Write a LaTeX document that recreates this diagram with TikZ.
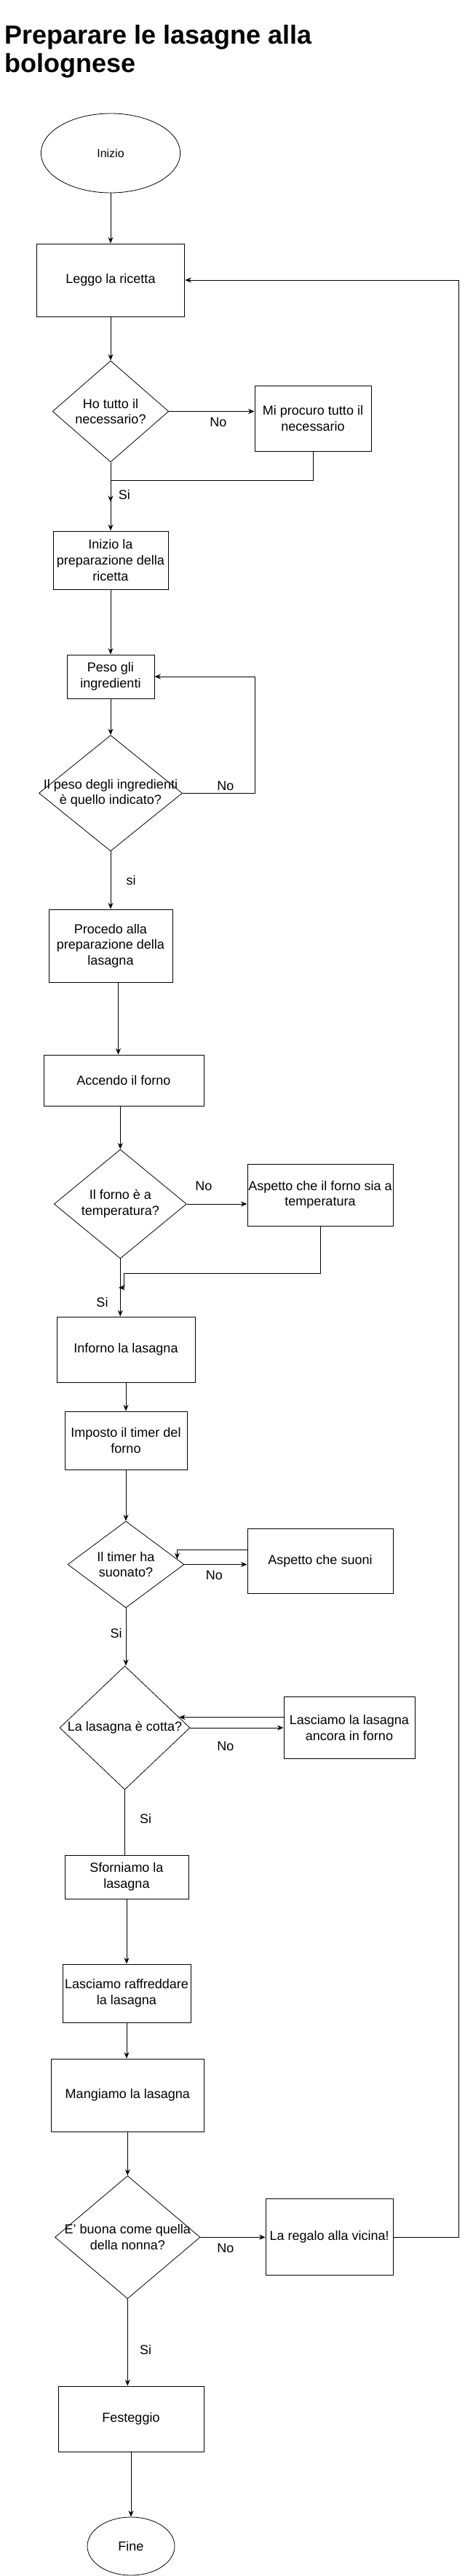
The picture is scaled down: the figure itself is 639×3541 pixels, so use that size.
\documentclass[tikz,border=0pt]{standalone}
\usepackage{fontspec}
\setmainfont{Liberation Sans}
\usetikzlibrary{shapes.geometric,arrows.meta}

\begin{document}
\begin{tikzpicture}[
  x=1pt, y=1pt,
  line width=1pt,
  box/.style={rectangle, draw, align=center, inner sep=1pt},
  decision/.style={diamond, draw, line width=0.8pt, inner sep=0pt},
  terminal/.style={ellipse, draw, line width=0.8pt, inner sep=0pt},
  dtext/.style={align=center, inner sep=0pt},
  lbl/.style={inner sep=0pt},
  title/.style={align=left, inner sep=0pt, font=\fontsize{36}{39}\selectfont\bfseries},
  >={Stealth[length=8.5pt,width=7pt]},
  font=\fontsize{18}{21.6}\selectfont
]
\useasboundingbox (0,0) rectangle (639,-3541);

\node[title, anchor=north west] (titolo) at (6,-34) {Preparare le lasagne alla\\bolognese};

% colonna principale
\node[terminal, minimum width=191.4pt, minimum height=109pt, font=\fontsize{16}{19}\selectfont] (inizio) at (152,-210.5) {Inizio};
\node[box, below of=inizio, node distance=174.5pt, minimum width=203.7pt, minimum height=100pt] (leggo) {Leggo la ricetta};
\node[decision, below of=leggo, node distance=180.5pt, minimum width=159.6pt, minimum height=139.3pt,
  label={[dtext]center:Ho tutto il\\necessario?}] (d1) {};
\node[box, right of=d1, node distance=278pt, yshift=-9.5pt, minimum width=160pt, minimum height=90pt] (procuro) {Mi procuro tutto il\\necessario};
\node[box, below of=d1, node distance=204.5pt, minimum width=158pt, minimum height=80pt] (prep) {Inizio la\\preparazione della\\ricetta};
\node[box, below of=prep, node distance=160pt, minimum width=120pt, minimum height=60pt] (peso) {Peso gli\\ingredienti};
\node[decision, below of=peso, node distance=160.3pt, minimum width=197pt, minimum height=159.3pt,
  label={[dtext]center:Il peso degli ingredienti\\è quello indicato?}] (d2) {};
\node[box, below of=d2, node distance=209.7pt, minimum width=170pt, minimum height=100pt] (procedo) {Procedo alla\\preparazione della\\lasagna};
\node[box, below of=procedo, node distance=185pt, xshift=18pt, minimum width=220pt, minimum height=70pt] (accendo) {Accendo il forno};
\node[decision, below of=accendo, node distance=170pt, xshift=-4.7pt, minimum width=182pt, minimum height=150pt,
  label={[dtext]center:Il forno è a\\temperatura?}] (d3) {};
\node[box, right of=d3, node distance=274.7pt, yshift=12.5pt, minimum width=200pt, minimum height=85pt] (attesa) {Aspetto che il forno sia a\\temperatura};
\node[box, below of=d3, node distance=200pt, xshift=7.7pt, minimum width=190pt, minimum height=90pt] (inforno) {Inforno la lasagna};
\node[box, below of=inforno, node distance=125pt, minimum width=168pt, minimum height=80pt] (imposto) {Imposto il timer del\\forno};
\node[decision, below of=imposto, node distance=170.5pt, minimum width=160pt, minimum height=119pt,
  label={[dtext]center:Il timer ha\\suonato?}] (d4) {};
\node[box, right of=d4, node distance=267pt, yshift=5pt, minimum width=200pt, minimum height=89pt] (suoni) {Aspetto che suoni};
\node[decision, below of=d4, node distance=224.5pt, xshift=-1.5pt, minimum width=179pt, minimum height=170pt,
  label={[dtext]center:La lasagna è cotta?}] (d5) {};
\node[box, right of=d5, node distance=308.5pt, minimum width=180pt, minimum height=85pt] (ancora) {Lasciamo la lasagna\\ancora in forno};
\node[box, below of=d5, node distance=205pt, xshift=2.5pt, minimum width=170pt, minimum height=60pt] (sforno) {Sforniamo la\\lasagna};
\node[box, below of=sforno, node distance=160pt, minimum width=176pt, minimum height=80pt] (raffredda) {Lasciamo raffreddare\\la lasagna};
\node[box, below of=raffredda, node distance=140pt, xshift=1.3pt, minimum width=210pt, minimum height=100pt] (mangiamo) {Mangiamo la lasagna};
\node[decision, below of=mangiamo, node distance=195.3pt, minimum width=199.5pt, minimum height=169pt,
  label={[dtext]center:E' buona come quella\\della nonna?}] (d6) {};
\node[box, right of=d6, node distance=277.3pt, minimum width=175pt, minimum height=105pt] (regalo) {La regalo alla vicina!};
\node[box, below of=d6, node distance=249.7pt, xshift=4.7pt, minimum width=200pt, minimum height=90pt] (festa) {Festeggio};
\node[terminal, below of=festa, node distance=175pt, minimum width=120pt, minimum height=80pt] (fine) {Fine};

% etichette
\node[lbl] (no1) at (300,-580) {No};
\node[lbl] (si1) at (170.8,-680) {Si};
\node[lbl] (no2) at (310,-1080) {No};
\node[lbl] (si2) at (180,-1210) {si};
\node[lbl] (no3) at (280,-1630) {No};
\node[lbl] (si3) at (140.5,-1790) {Si};
\node[lbl] (no4) at (294.5,-2165) {No};
\node[lbl] (si4) at (159.5,-2245) {Si};
\node[lbl] (no5) at (310,-2400) {No};
\node[lbl] (si5) at (200,-2500) {Si};
\node[lbl] (no6) at (310,-3090) {No};
\node[lbl] (si6) at (200,-3230) {Si};

% punti di raccordo
\coordinate (m1) at (152,-660);
\coordinate (m1e) at (152,-690);
\coordinate (c2) at (350,-930);
\coordinate (c3) at (170,-1750);
\coordinate (m3) at (163,-1770);
\coordinate (c6) at (630,-385);

\draw[->] (inizio) -- (leggo);
\draw[->] (leggo) -- (d1);
\draw[->] (d1.east) -- (d1.east -| procuro.west);
\draw[->] (procuro.south) |- (m1) -- (m1e);
\draw[->] (d1) -- (prep);
\draw[->] (prep) -- (peso);
\draw[->] (peso) -- (d2);
\draw[->] (d2.east) -| (c2) -- (peso.east);
\draw[->] (d2) -- (procedo);
\draw[->] ([xshift=10.5pt]procedo.south) -- ([xshift=-7.5pt]accendo.north);
\draw[->] (d3.north |- accendo.south) -- (d3.north);
\draw[->] (d3.east) -- (d3.east -| attesa.west);
\draw[->] (attesa.south) |- (c3) |- (m3);
\draw[->] (d3.south) -- (d3.south |- inforno.north);
\draw[->] (inforno) -- (imposto);
\draw[->] (imposto) -- (d4);
\draw[->] (d4.east) -- (d4.east -| suoni.west);
\draw[->] ([yshift=14.7pt]suoni.west) -| (d4.6);
\draw[->] (d4.south) -- (d4.south |- d5.north);
\draw[->] (d5) -- (ancora);
\draw[->] (ancora.west |- d5.11) -- (d5.11);
\draw (d5.south) -- (d5.south |- sforno.north);
\draw[->] (sforno) -- (raffredda);
\draw[->] (raffredda.south) -- (raffredda.south |- mangiamo.north);
\draw[->] (mangiamo) -- (d6);
\draw[->] (d6) -- (regalo);
\draw[->] (regalo.east) -| (c6) -- (leggo.east);
\draw[->] (d6.south) -- (d6.south |- festa.north);
\draw[->] (festa) -- (fine);
\end{tikzpicture}
\end{document}
